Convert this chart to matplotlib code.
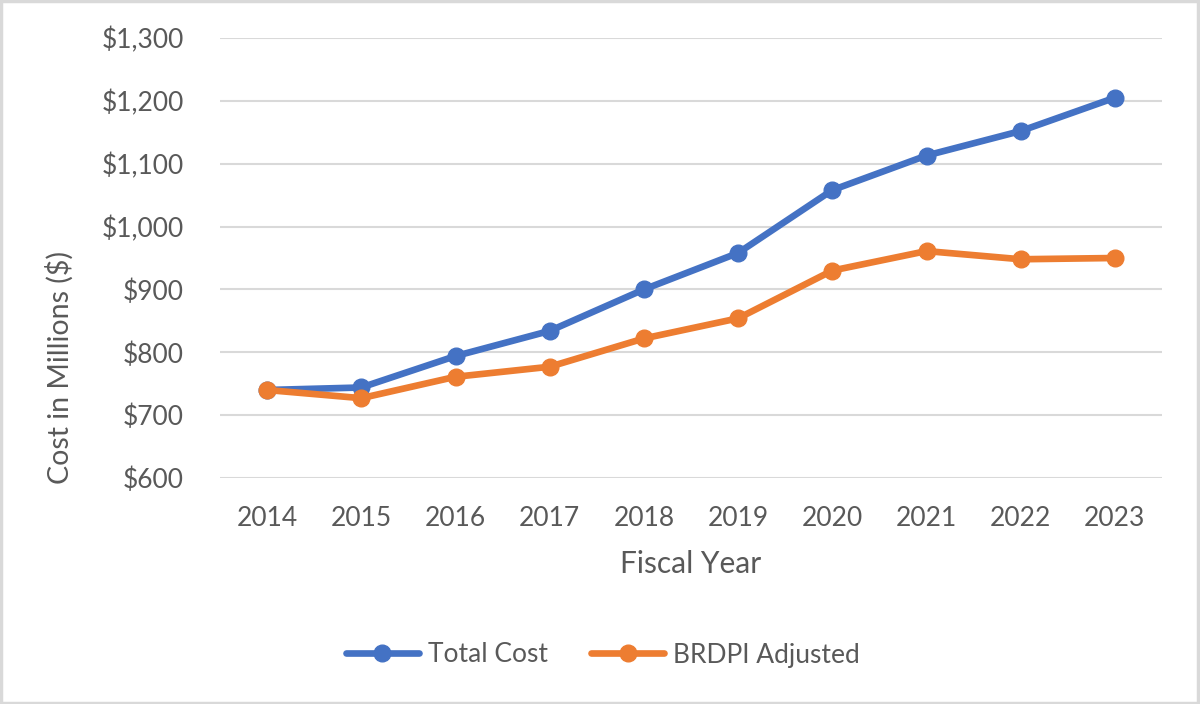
import matplotlib
matplotlib.use("Agg")
import matplotlib.pyplot as plt
from matplotlib.patches import Rectangle
from matplotlib.ticker import FuncFormatter

years = ["2014", "2015", "2016", "2017", "2018", "2019", "2020", "2021", "2022", "2023"]
total_cost = [740, 744, 794, 834, 900, 958, 1058, 1113, 1152, 1205]
brdpi_adjusted = [740, 727, 761, 777, 822, 854, 930, 961, 948, 950]
series_names = ["Total Cost", "BRDPI Adjusted"]
y_ticks = [600, 700, 800, 900, 1000, 1100, 1200, 1300]

plt.rcParams['font.family'] = ['Lato', 'DejaVu Sans']
text_color = "#595959"

fig = plt.figure(figsize=(12, 7.04), dpi=100)
fig.patch.set_facecolor("white")
ax = fig.add_axes([220/1200, 1 - 478/704, (1162-220)/1200, (478-38)/704])

x = list(range(len(years)))
ax.plot(x, total_cost, color="#4472C4", lw=4.8, marker="o", ms=12,
        label=series_names[0], solid_capstyle="round", zorder=3)
ax.plot(x, brdpi_adjusted, color="#ED7D31", lw=4.8, marker="o", ms=12,
        label=series_names[1], solid_capstyle="round", zorder=3)

ax.set_xlim(-0.5, len(years) - 0.5)
ax.set_ylim(600, 1300)
ax.set_yticks(y_ticks)
ax.yaxis.set_major_formatter(FuncFormatter(lambda v, p: "${:,.0f}".format(v)))
ax.set_xticks(x)
ax.set_xticklabels(years)
ax.grid(axis="y", color="#D9D9D9", lw=1.5, zorder=0)
ax.set_axisbelow(True)
for s in ax.spines.values():
    s.set_visible(False)
ax.tick_params(length=0, labelsize=19, colors=text_color)
ax.tick_params(axis="y", pad=26)
ax.tick_params(axis="x", pad=20)

ax.set_xlabel("Fiscal Year", fontsize=21.5, color=text_color, labelpad=14)
fig.text(60/1200, 1 - 368/704, "Cost in Millions ($)", rotation=90, ha="center",
         va="center", fontsize=20.5, color=text_color)

leg = fig.legend(loc="center", bbox_to_anchor=(0.5 + 3/1200, 1 - 655/704), ncol=2,
                 frameon=False, fontsize=19, handlelength=2.75, handletextpad=0.35,
                 columnspacing=1.65)
for t in leg.get_texts():
    t.set_color(text_color)

fig.add_artist(Rectangle((0.001, 0.002), 0.997, 0.996, transform=fig.transFigure,
                         fill=False, edgecolor="#D9D9D9", lw=2.5))

fig.savefig("out.png", dpi=100)
